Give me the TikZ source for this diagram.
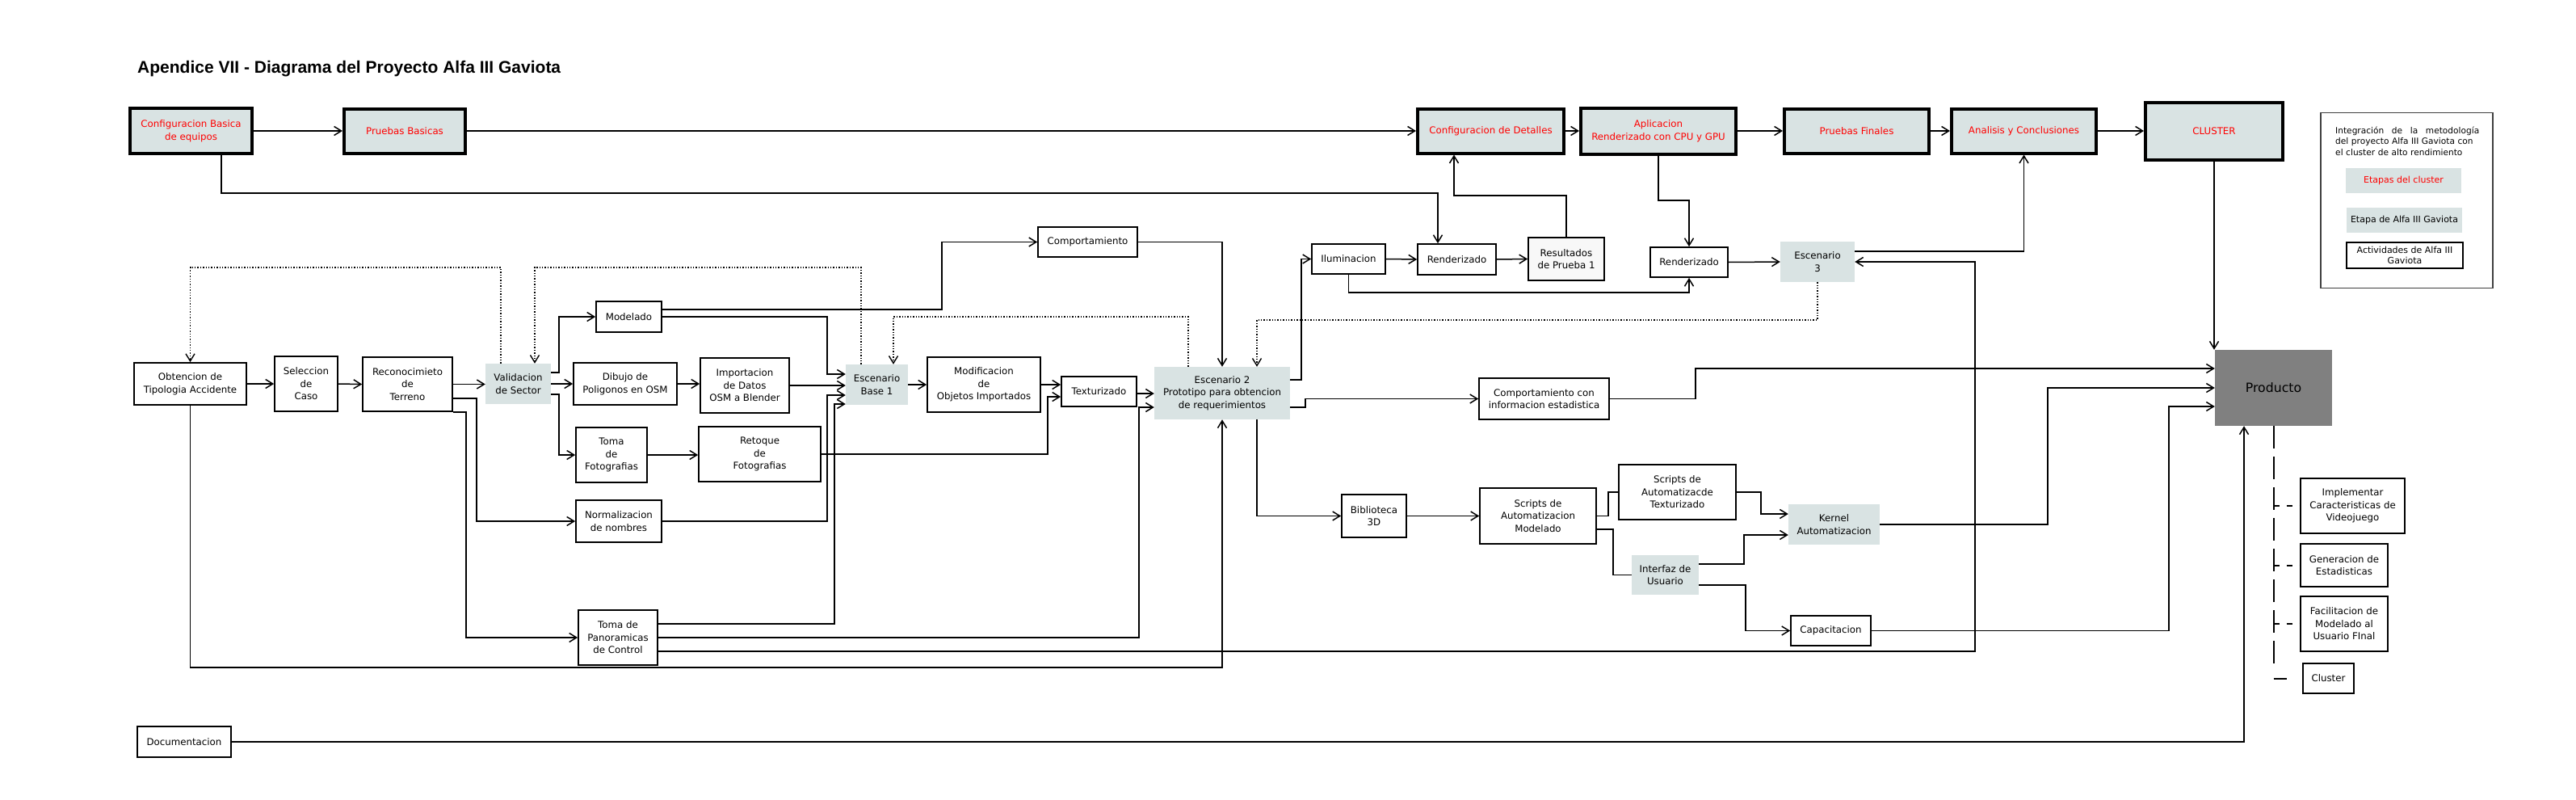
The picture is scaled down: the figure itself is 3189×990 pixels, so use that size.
\documentclass[tikz,border=0pt]{standalone}
\usepackage{fontspec}
\setmainfont{DejaVu Sans}
\newfontfamily\titlefont{Liberation Sans}
\usetikzlibrary{arrows.meta}
\definecolor{alfa}{RGB}{217,227,227}
\definecolor{prodgray}{RGB}{128,128,128}
\definecolor{resfill}{RGB}{248,248,248}
\tikzset{
  lbl/.style={font=\fontsize{11.8}{15.5}\selectfont, align=center, inner sep=0pt},
  box/.style={lbl, draw, line width=1.7pt, fill=white},
  abox/.style={lbl, fill=alfa},
  cbox/.style={lbl, draw, line width=4pt, fill=alfa, text=red},
  conn/.style={line width=1.5pt},
  arr/.style={conn, -{Straight Barb[length=9pt,width=11pt]}},
  dotarr/.style={line width=1.4pt, dotted, -{Straight Barb[length=9pt,width=11pt]}},
  dashln/.style={line width=2pt, dash pattern=on 28pt off 10pt},
  dashbr/.style={line width=2pt, dash pattern=on 7pt off 9pt},
}
\begin{document}
\begin{tikzpicture}[x=1pt,y=-1pt]
\useasboundingbox (0,0) rectangle (3189,990);

% title
\node[anchor=base west, inner sep=0pt, font=\titlefont\bfseries\fontsize{21}{25}\selectfont] (title) at (170,90.5) {Apendice VII - Diagrama del Proyecto Alfa III Gaviota};

% cluster stages
\node[cbox, minimum width=151pt, minimum height=56pt] (cfgb) at (236.5,162) {Configuracion Basica\\de equipos};
\node[cbox, minimum width=150pt, minimum height=55pt] (prb) at (501,162) {Pruebas Basicas};
\node[cbox, minimum width=181pt, minimum height=55pt] (cfgd) at (1845.5,162) {Configuracion de Detalles};
\node[cbox, minimum width=192pt, minimum height=57pt] (apl) at (2053,162) {Aplicacion\\Renderizado con CPU y GPU};
\node[cbox, minimum width=179pt, minimum height=55pt] (prf) at (2298.5,162) {Pruebas Finales};
\node[cbox, minimum width=179pt, minimum height=55pt] (ana) at (2505.5,162) {Analisis y Conclusiones};
\node[cbox, minimum width=170pt, minimum height=71pt] (clu) at (2741,162) {CLUSTER};

% legend
\node[draw=black!75, line width=1.2pt, fill=white, minimum width=213pt, minimum height=217pt, inner sep=0pt] (leg) at (2979.5,248) {};
\node[anchor=north west, inner sep=0pt, text width=178pt, align=left, font=\fontsize{10.6}{13.3}\selectfont] (legt) at (2891,157) {Integración\hfill de\hfill la\hfill metodología\\del proyecto Alfa III Gaviota con\\el cluster de alto rendimiento};
\node[abox, text=red, minimum width=143pt, minimum height=31pt, font=\fontsize{11}{13}\selectfont] (leg1) at (2975.5,223.5) {Etapas del cluster};
\node[abox, minimum width=143pt, minimum height=31pt, font=\fontsize{11}{13}\selectfont] (leg2) at (2976.5,272.5) {Etapa de Alfa III Gaviota};
\node[box, line width=1.3pt, minimum width=144pt, minimum height=32pt, font=\fontsize{11}{13}\selectfont] (leg3) at (2977,316) {Actividades de Alfa III\\Gaviota};

% activity boxes
\node[box, minimum width=123pt, minimum height=37pt] (comp) at (1346.5,299.5) {Comportamiento};
\node[box, minimum width=91pt, minimum height=37pt] (ilum) at (1669.5,320.5) {Iluminacion};
\node[box, minimum width=97pt, minimum height=38pt] (ren1) at (1803.5,321) {Renderizado};
\node[box, fill=resfill, minimum width=94pt, minimum height=53pt] (res) at (1939,320.5) {Resultados\\de Prueba 1};
\node[box, minimum width=96pt, minimum height=37pt] (ren2) at (2091,324.5) {Renderizado};
\node[abox, minimum width=92pt, minimum height=50pt] (esc3) at (2250,324) {Escenario\\3};
\node[box, minimum width=81pt, minimum height=38pt] (mod) at (778.5,392) {Modelado};
\node[box, minimum width=139pt, minimum height=52pt] (obt) at (235.5,475) {Obtencion de\\Tipologia Accidente};
\node[box, minimum width=78pt, minimum height=68pt] (sel) at (379,475) {Seleccion\\de\\Caso};
\node[box, minimum width=111pt, minimum height=67pt] (rec) at (504.5,475.5) {Reconocimieto\\de\\Terreno};
\node[abox, minimum width=81pt, minimum height=50pt] (val) at (641.5,475) {Validacion\\de Sector};
\node[box, minimum width=128pt, minimum height=52pt] (dib) at (774,475) {Dibujo de\\Poligonos en OSM};
\node[box, minimum width=110pt, minimum height=68pt] (imp) at (922,477) {Importacion\\de Datos\\OSM a Blender};
\node[abox, minimum width=77pt, minimum height=50pt] (esb1) at (1085.5,476) {Escenario\\Base 1};
\node[box, minimum width=140pt, minimum height=68pt] (modif) at (1218,476) {Modificacion\\de\\Objetos Importados};
\node[box, minimum width=93pt, minimum height=37pt] (tex) at (1360.5,484.5) {Texturizado};
\node[abox, minimum width=168pt, minimum height=65pt] (esc2) at (1513,486.5) {Escenario 2\\Prototipo para obtencion\\de requerimientos};
\node[box, minimum width=161pt, minimum height=51pt] (cinf) at (1911.5,493.5) {Comportamiento con\\informacion estadistica};
\node[lbl, fill=prodgray, minimum width=145pt, minimum height=94pt, font=\fontsize{15.7}{19}\selectfont] (prod) at (2814.5,480) {Producto};
\node[box, minimum width=88pt, minimum height=68pt] (tfoto) at (757,563) {Toma\\de\\Fotografias};
\node[box, minimum width=151pt, minimum height=68pt] (ret) at (940.5,562) {Retoque\\de\\Fotografias};
\node[box, minimum width=106pt, minimum height=52pt] (norm) at (766,645) {Normalizacion\\de nombres};
\node[box, minimum width=98pt, minimum height=68pt] (tpan) at (765,789) {Toma de\\Panoramicas\\de Control};
\node[box, minimum width=80pt, minimum height=53pt] (bib) at (1701,638.5) {Biblioteca\\3D};
\node[box, minimum width=144pt, minimum height=69pt] (smod) at (1904,638.5) {Scripts de\\Automatizacion\\Modelado};
\node[box, minimum width=145pt, minimum height=68pt] (stex) at (2076.5,609) {Scripts de\\Automatizacde\\Texturizado};
\node[abox, minimum width=113pt, minimum height=50pt] (kern) at (2270.5,649) {Kernel\\Automatizacion};
\node[abox, minimum width=83pt, minimum height=49pt] (intf) at (2061.5,711.5) {Interfaz de\\Usuario};
\node[box, minimum width=99pt, minimum height=37pt] (cap) at (2266.5,780.5) {Capacitacion};
\node[box, minimum width=129pt, minimum height=68pt] (impl) at (2912.5,626) {Implementar\\Caracteristicas de\\Videojuego};
\node[box, minimum width=108pt, minimum height=53pt] (gen) at (2902,699.5) {Generacion de\\Estadisticas};
\node[box, minimum width=108pt, minimum height=68pt] (fac) at (2902,772) {Facilitacion de\\Modelado al\\Usuario FInal};
\node[box, minimum width=63pt, minimum height=37pt] (clus2) at (2882.5,839.5) {Cluster};
\node[box, minimum width=116pt, minimum height=38pt] (doc) at (228,918) {Documentacion};

% top row connectors
\draw[arr] (cfgb.east) -- (prb.west);
\draw[arr] (prb.east) -- (cfgd.west);
\draw[arr] (cfgd.east) -- (apl.west);
\draw[arr] (apl.east) -- (prf.west);
\draw[arr] (prf.east) -- (ana.west);
\draw[arr] (ana.east) -- (clu.west);
\draw[arr] (274,0 |- cfgb.south) -- (274,239) -- (1780,239) -- (1780,0 |- ren1.north);
\draw[arr] (res.north) -- (1939,242) -- (1800,242) -- (1800,0 |- cfgd.south);
\draw[arr] (apl.south) -- (2053,248) -- (2091,248) -- (ren2.north);
\draw[arr] (ilum.east) -- (ren1.west);
\draw[arr] (ren1.east) -- (res.west);
\draw[arr] (ilum.south) -- (1669.5,362) -- (2091,362) -- (ren2.south);
\draw[arr] (ren2.east) -- (esc3.west);
\draw[arr] (esc3.east |- 0,311) -- (2505.5,311) -- (ana.south);
\draw[arr] (tpan.east |- 0,806) -- (2445,806) -- (2445,324) -- (esc3.east);
\draw[arr] (clu.south) -- (clu.south |- prod.north);
\draw[arr] (comp.east) -- (1513,299.5) -- (esc2.north);

% dotted feedback
\draw[dotarr] (620,0 |- val.north) -- (620,331) -- (235.5,331) -- (obt.north);
\draw[dotarr] (1066,0 |- esb1.north) -- (1066,331) -- (662,331) -- (662,0 |- val.north);
\draw[dotarr] (1471,0 |- esc2.north) -- (1471,392) -- (1106,392) -- (1106,0 |- esb1.north);
\draw[dotarr] (esc3.south) -- (2250,396) -- (1556,396) -- (1556,0 |- esc2.north);

% left part
\draw[arr] (obt.east) -- (sel.west);
\draw[arr] (sel.east) -- (rec.west);
\draw[arr] (rec.east) -- (val.west |- rec.east);
\draw[arr] (rec.east |- 0,493) -- (590,493) -- (590,645) -- (norm.west);
\draw[arr] (rec.south east) -- (577,0 |- rec.south east) -- (577,789) -- (tpan.west);
\draw[arr] (obt.south) -- (235.5,826) -- (1513,826) -- (esc2.south);
\draw[arr] (val.east |- 0,461) -- (692,461) -- (692,392) -- (mod.west);
\draw[arr] (val.east) -- (dib.west);
\draw[arr] (val.east |- 0,488) -- (692,488) -- (692,563) -- (tfoto.west);
\draw[arr] (dib.east) -- (imp.west |- dib.east);
\draw[arr] (imp.east) -- (esb1.west |- imp.east);
\draw[arr] (mod.east |- 0,383) -- (1166,383) -- (1166,299.5) -- (comp.west);
\draw[arr] (mod.east) -- (1024,392) -- (1024,463) -- (esb1.west |- 0,463);
\draw[arr] (norm.east) -- (1024,645) -- (1024,489) -- (esb1.west |- 0,489);
\draw[arr] (tpan.east |- 0,772) -- (1033,772) -- (1033,500) -- (esb1.west |- 0,500);
\draw[arr] (tfoto.east) -- (ret.west |- tfoto.east);
\draw[arr] (esb1.east) -- (modif.west);
\draw[arr] (modif.east) -- (tex.west |- modif.east);
\draw[arr] (ret.east) -- (1297,562) -- (1297,491) -- (tex.west |- 0,491);
\draw[arr] (tex.east |- 0,487) -- (esc2.west |- 0,487);
\draw[arr] (tpan.east) -- (1410,789) -- (1410,504) -- (esc2.west |- 0,504);

% right part
\draw[arr] (esc2.east |- 0,470) -- (1611,470) -- (1611,320.5) -- (ilum.west);
\draw[arr] (esc2.east |- 0,504) -- (1616,504) -- (1616,493.5) -- (cinf.west);
\draw[arr] (cinf.east) -- (2099,493.5) -- (2099,456) -- (prod.west |- 0,456);
\draw[arr] (1556,0 |- esc2.south) -- (1556,638.5) -- (bib.west);
\draw[arr] (bib.east) -- (smod.west);
\draw[conn] (smod.east) -- (1991,638.5) -- (1991,609) -- (stex.west);
\draw[arr] (stex.east) -- (2180,609) -- (2180,636) -- (kern.west |- 0,636);
\draw[conn] (smod.east |- 0,655) -- (1997,655) -- (1997,711.5) -- (intf.west);
\draw[arr] (intf.east |- 0,698) -- (2159,698) -- (2159,662) -- (kern.west |- 0,662);
\draw[arr] (intf.east |- 0,724) -- (2161,724) -- (2161,780.5) -- (cap.west);
\draw[arr] (kern.east) -- (2535,649) -- (2535,480) -- (prod.west);
\draw[arr] (cap.east) -- (2685,780.5) -- (2685,503) -- (prod.west |- 0,503);
\draw[arr] (doc.east) -- (2778,918) -- (prod.south -| 2778,0);

% product outcomes
\draw[dashln] (prod.south) -- (2814.5,822);
\draw[dashbr] (2814.5,626) -- (impl.west);
\draw[dashbr] (2814.5,699.5) -- (gen.west);
\draw[dashbr] (2814.5,772) -- (fac.west);
\draw[line width=2pt] (2814.5,839.5) -- ([xshift=-19pt]clus2.west);
\end{tikzpicture}
\end{document}
